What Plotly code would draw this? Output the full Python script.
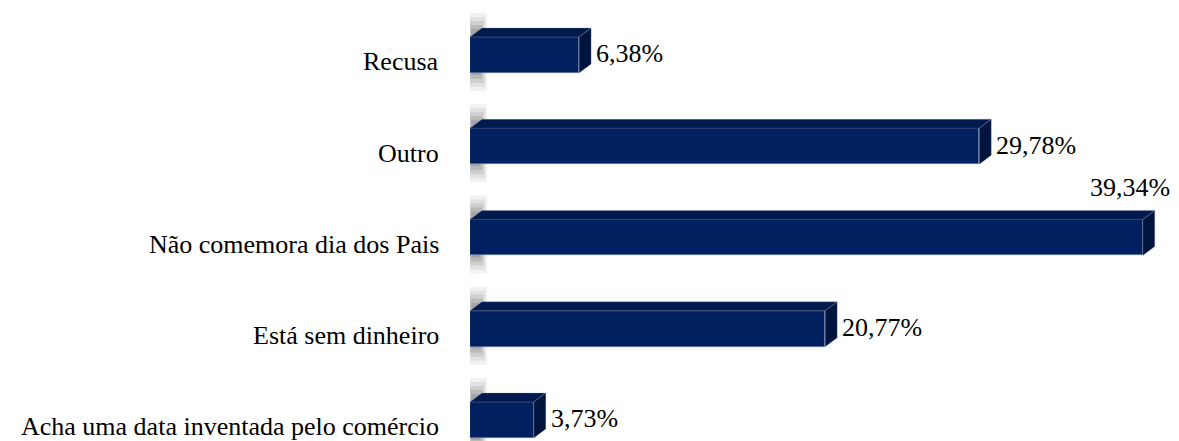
import plotly.graph_objects as go

categories = ["Acha uma data inventada pelo comércio", "Está sem dinheiro",
              "Não comemora dia dos Pais", "Outro", "Recusa"]
values = [3.73, 20.77, 39.34, 29.78, 6.38]
labels = ["3,73%", "20,77%", "39,34%", "29,78%", "6,38%"]

# page body has an 8px margin, so the figure is sized to fit the window
W, H = 1171, 433
ML, MR, MT, MB = 462, 0, 0, 0
plot_w = W - ML - MR
plot_h = H - MT - MB
XMAX = 41.46
YMAX = 4.515
YMIN = YMAX - plot_h / 91.25
px_x = plot_w / XMAX           # pixels per x unit
px_y = plot_h / (YMAX - YMIN)  # pixels per y unit

BAR_W = 36 / px_y
DX = 12 / px_x
DY = 9 / px_y

FRONT = "#002060"
TOP = "#001a4e"
SIDE = "#00143e"
FONT = "'Times New Roman', 'Liberation Serif', 'DejaVu Serif', serif"

ys = list(range(len(categories)))

fig = go.Figure()
fig.add_trace(go.Bar(
    x=values, y=ys, orientation="h", width=BAR_W,
    marker=dict(color=FRONT, line=dict(color="rgba(140,150,185,0.8)", width=0.6)),
    hoverinfo="skip", showlegend=False,
))

shapes = []
for y, v in zip(ys, values):
    top = y + BAR_W / 2
    bot = y - BAR_W / 2
    # blurry shadow at the left (back wall)
    for i, op in enumerate([0.06, 0.08, 0.10, 0.12, 0.14]):
        ext_t = (24 - i * 4) / px_y
        ext_b = (18 - i * 4) / px_y
        x0 = (-2 + i * 0.8) / px_x
        x1 = (17 - i * 1.6) / px_x
        shapes.append(dict(type="rect", xref="x", yref="y", x0=x0, x1=x1,
                           y0=bot - ext_b, y1=top + ext_t,
                           fillcolor=f"rgba(40,40,40,{op})", line=dict(width=0),
                           layer="below"))
    # top face
    shapes.append(dict(type="path", xref="x", yref="y",
                       path=f"M 0 {top} L {DX} {top+DY} L {v+DX} {top+DY} L {v} {top} Z",
                       fillcolor=TOP, line=dict(color="rgba(140,150,185,0.6)", width=0.5),
                       layer="above"))
    # side face
    shapes.append(dict(type="path", xref="x", yref="y",
                       path=f"M {v} {top} L {v+DX} {top+DY} L {v+DX} {bot+DY} L {v} {bot} Z",
                       fillcolor=SIDE, line=dict(color="rgba(140,150,185,0.6)", width=0.5),
                       layer="above"))

annotations = []
for y, c in zip(ys, categories):
    annotations.append(dict(xref="paper", yref="y", x=0, y=y, text=c,
                            xanchor="right", yanchor="middle", xshift=-29, yshift=-7,
                            showarrow=False, font=dict(family=FONT, size=26, color="black")))
vmax = max(values)
for y, v, t in zip(ys, values, labels):
    if v == vmax:
        annotations.append(dict(xref="paper", yref="y", x=1, y=y + BAR_W / 2 + DY, text=t,
                                xanchor="right", yanchor="bottom", xshift=-7, yshift=6,
                                showarrow=False, font=dict(family=FONT, size=26, color="black")))
    else:
        annotations.append(dict(xref="x", yref="y", x=v + DX, y=y, text=t,
                                xanchor="left", yanchor="middle", xshift=3, yshift=1,
                                showarrow=False, font=dict(family=FONT, size=26, color="black")))

fig.update_layout(
    width=W, height=H,
    margin=dict(l=ML, r=MR, t=MT, b=MB, pad=0),
    paper_bgcolor="white", plot_bgcolor="white",
    xaxis=dict(range=[0, XMAX], visible=False, fixedrange=True),
    yaxis=dict(range=[YMIN, YMAX], visible=False, fixedrange=True),
    shapes=shapes, annotations=annotations,
    bargap=0,
)

fig.write_html("out.html")
